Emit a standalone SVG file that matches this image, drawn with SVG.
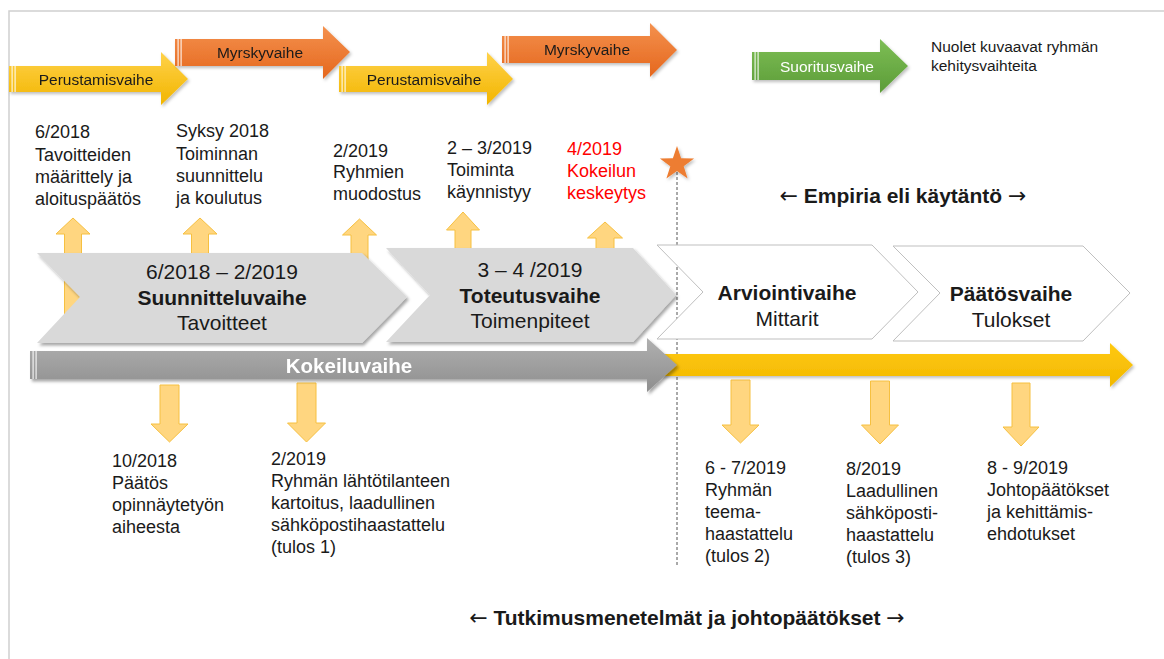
<svg xmlns="http://www.w3.org/2000/svg" width="1164" height="659" viewBox="0 0 1164 659">
  <defs>
    <linearGradient id="gYellow" x1="0" y1="0" x2="0" y2="1">
      <stop offset="0" stop-color="#FFD24A"/>
      <stop offset="1" stop-color="#F2B500"/>
    </linearGradient>
    <linearGradient id="gOrange" x1="0" y1="0" x2="0" y2="1">
      <stop offset="0" stop-color="#F4914E"/>
      <stop offset="1" stop-color="#E5671D"/>
    </linearGradient>
    <linearGradient id="gGreen" x1="0" y1="0" x2="0" y2="1">
      <stop offset="0" stop-color="#7DBE55"/>
      <stop offset="1" stop-color="#5C9C38"/>
    </linearGradient>
    <linearGradient id="gGray" x1="0" y1="0" x2="0" y2="1">
      <stop offset="0" stop-color="#B0B0B0"/>
      <stop offset="1" stop-color="#8E8E8E"/>
    </linearGradient>
    <linearGradient id="gGold" x1="0" y1="0" x2="0" y2="1">
      <stop offset="0" stop-color="#FFC910"/>
      <stop offset="1" stop-color="#F2B800"/>
    </linearGradient>
    <filter id="shadow" x="-10%" y="-20%" width="130%" height="160%">
      <feDropShadow dx="2" dy="2.5" stdDeviation="1.8" flood-color="#000" flood-opacity="0.35"/>
    </filter>
    <filter id="softShadow" x="-10%" y="-20%" width="130%" height="160%">
      <feDropShadow dx="1.5" dy="2" stdDeviation="1.5" flood-color="#000" flood-opacity="0.25"/>
    </filter>
  </defs>
  <style>
    text { font-family: "Liberation Sans", Arial, sans-serif; fill: #1a1a1a; }
    .lbl { font-size: 15.5px; text-anchor: middle; }
    .lblw { font-size: 15.5px; text-anchor: middle; fill: #ffffff; }
    .note { font-size: 15.5px; }
    .ev { font-size: 18px; }
    .red { fill: #FF0000; }
    .ph { font-size: 21px; text-anchor: middle; }
    .phb { font-size: 21px; text-anchor: middle; font-weight: bold; }
    .axis { font-size: 21px; font-weight: bold; text-anchor: middle; }
    .arr { font-family: "DejaVu Sans", sans-serif; font-weight: normal; font-size: 22px; }
    .kok { font-size: 20.5px; font-weight: bold; fill: #ffffff; text-anchor: middle; }
    .chevG { fill: #D9D9D9; filter: url(#shadow); }
    .chevW { fill: #ffffff; stroke: #BFBFBF; stroke-width: 1; }
    .callout { fill: #FFD680; stroke: #F6C040; stroke-width: 1; }
    .stripe { fill: #ffffff; opacity: 0.85; }
  </style>

  <!-- page frame -->
  <path d="M9,659 V11 H1164" fill="none" stroke="#D0D0D0" stroke-width="1.5"/>

  <!-- group development stages (top block arrows) -->
  <g id="stage-perustamis-1" filter="url(#softShadow)">
    <path d="M9,66 H161 V52 L188,79 L161,105 V92 H9 Z" fill="url(#gYellow)"/>
    <rect x="11.5" y="66" width="1.2" height="26" class="stripe"/>
    <rect x="14.5" y="66" width="1.2" height="26" class="stripe"/>
    <text x="96" y="85" class="lbl">Perustamisvaihe</text>
  </g>
  <g id="stage-myrsky-1" filter="url(#softShadow)">
    <path d="M175,39 H323 V26 L350,52 L323,79 V66 H175 Z" fill="url(#gOrange)"/>
    <rect x="177.5" y="39" width="1.2" height="27" class="stripe"/>
    <rect x="180.5" y="39" width="1.2" height="27" class="stripe"/>
    <text x="260" y="58" class="lbl">Myrskyvaihe</text>
  </g>
  <g id="stage-perustamis-2" filter="url(#softShadow)">
    <path d="M339,66 H487 V52 L513,79 L487,105 V92 H339 Z" fill="url(#gYellow)"/>
    <rect x="341.5" y="66" width="1.2" height="26" class="stripe"/>
    <rect x="344.5" y="66" width="1.2" height="26" class="stripe"/>
    <text x="424" y="85" class="lbl">Perustamisvaihe</text>
  </g>
  <g id="stage-myrsky-2" filter="url(#softShadow)">
    <path d="M502,36 H650 V23 L677,50 L650,77 V63 H502 Z" fill="url(#gOrange)"/>
    <rect x="504.5" y="36" width="1.2" height="27" class="stripe"/>
    <rect x="507.5" y="36" width="1.2" height="27" class="stripe"/>
    <text x="587" y="55" class="lbl">Myrskyvaihe</text>
  </g>
  <g id="stage-suoritus" filter="url(#softShadow)">
    <path d="M752,52 H880 V39 L908,66 L880,93 V80 H752 Z" fill="url(#gGreen)"/>
    <rect x="754.5" y="52" width="1.2" height="28" class="stripe"/>
    <rect x="757.5" y="52" width="1.2" height="28" class="stripe"/>
    <text x="827" y="72" class="lblw">Suoritusvaihe</text>
  </g>
  <g id="legend">
    <text x="931" y="52" class="note">Nuolet kuvaavat ryhmän</text>
    <text x="931" y="71" class="note">kehitysvaihteita</text>
  </g>

  <!-- callout arrows pointing to the milestones -->
  <g id="connectors">
    <path class="callout" d="M64.5,320 V234 H56 L73,218 L90,234 H81.5 V320 Z"/>
    <path class="callout" d="M191.5,320 V234 H183 L200,218 L217,234 H208.5 V320 Z"/>
    <path class="callout" d="M351,320 V235 H342.5 L359.5,219 L376.5,235 H368 V320 Z"/>
    <path class="callout" d="M455,320 V230 H446.5 L463,212 L479.5,230 H471 V320 Z"/>
    <path class="callout" d="M596,320 V238 H587.5 L605,222 L622.5,238 H614 V320 Z"/>

    <path class="callout" d="M160,385 V424 H151 L169.5,442 L188,424 H179 V385 Z"/>
    <path class="callout" d="M297,383 V423 H287.5 L306.5,442 L325.5,423 H316 V383 Z"/>
    <path class="callout" d="M731,380 V425 H722 L740.5,443 L759,425 H750 V380 Z"/>
    <path class="callout" d="M870.5,381 V425 H861.5 L880,444 L898.5,425 H889.5 V381 Z"/>
    <path class="callout" d="M1012,383 V427 H1003 L1021,446 L1039,427 H1030 V383 Z"/>

    <!-- interruption marker line -->
    <line x1="677" y1="172" x2="677" y2="567" stroke="#555555" stroke-width="1" stroke-dasharray="3,2"/>
  </g>

  <!-- process phases -->
  <g id="phase-suunnittelu">
    <path class="chevG" d="M37,253 H362 L407,297 L362,343 H37 L80,297 Z"/>
    <text x="222" y="279" class="ph">6/2018 – 2/2019</text>
    <text x="222" y="305" class="phb">Suunnitteluvaihe</text>
    <text x="222" y="330" class="ph">Tavoitteet</text>
  </g>
  <g id="phase-toteutus">
    <path class="chevG" d="M386,248 H633 L676,295 L633,342 H386 L430,295 Z"/>
    <text x="530" y="277" class="ph">3 – 4 /2019</text>
    <text x="530" y="303" class="phb">Toteutusvaihe</text>
    <text x="530" y="328" class="ph">Toimenpiteet</text>
  </g>
  <g id="phase-arviointi">
    <path class="chevW" d="M657,245 H872 L918,292 L872,339 H657 L703,292 Z"/>
    <text x="787" y="300" class="phb">Arviointivaihe</text>
    <text x="787" y="326" class="ph">Mittarit</text>
  </g>
  <g id="phase-paatos">
    <path class="chevW" d="M893,246 H1083 L1130,293 L1083,341 H893 L940,293 Z"/>
    <text x="1011" y="301" class="phb">Päätösvaihe</text>
    <text x="1011" y="327" class="ph">Tulokset</text>
  </g>

  <!-- timeline arrows -->
  <g id="timeline-empiria" filter="url(#softShadow)">
    <path d="M660,354 H1110 V343 L1133,365 L1110,387 V376 H660 Z" fill="url(#gGold)"/>
  </g>
  <g id="timeline-kokeilu" filter="url(#shadow)">
    <path d="M30,351 H647 V338 L677,365 L647,392 V379 H30 Z" fill="url(#gGray)"/>
    <rect x="32.5" y="351" width="1.2" height="28" class="stripe" opacity="0.6"/>
    <rect x="35.5" y="351" width="1.2" height="28" class="stripe" opacity="0.6"/>
    <text x="349" y="373" class="kok">Kokeiluvaihe</text>
  </g>

  <!-- interruption star -->
  <g id="star" filter="url(#softShadow)">
    <polygon points="677,146 681.1,158.3 694.1,158.4 683.7,166.2 687.6,178.6 677,171 666.4,178.6 670.3,166.2 659.9,158.4 672.9,158.3" fill="#ED7D31"/>
  </g>

  <!-- milestones above the timeline -->
  <g id="milestone-2018-06">
    <text x="35" y="138" class="ev">6/2018</text>
    <text x="35" y="161" class="ev">Tavoitteiden</text>
    <text x="35" y="183" class="ev">määrittely ja</text>
    <text x="35" y="205" class="ev">aloituspäätös</text>
  </g>
  <g id="milestone-2018-syksy">
    <text x="176" y="137" class="ev">Syksy 2018</text>
    <text x="176" y="160" class="ev">Toiminnan</text>
    <text x="176" y="182" class="ev">suunnittelu</text>
    <text x="176" y="204" class="ev">ja koulutus</text>
  </g>
  <g id="milestone-2019-02a">
    <text x="333" y="157" class="ev">2/2019</text>
    <text x="333" y="178" class="ev">Ryhmien</text>
    <text x="333" y="200" class="ev">muodostus</text>
  </g>
  <g id="milestone-2019-02-03">
    <text x="447" y="154" class="ev">2 – 3/2019</text>
    <text x="447" y="176" class="ev">Toiminta</text>
    <text x="447" y="198" class="ev">käynnistyy</text>
  </g>
  <g id="milestone-2019-04">
    <text x="567" y="155" class="ev red">4/2019</text>
    <text x="567" y="177" class="ev red">Kokeilun</text>
    <text x="567" y="199" class="ev red">keskeytys</text>
  </g>
  <g id="label-empiria">
    <text x="903" y="203" class="axis"><tspan class="arr">←</tspan> Empiria eli käytäntö <tspan class="arr">→</tspan></text>
  </g>

  <!-- milestones below the timeline -->
  <g id="milestone-2018-10">
    <text x="112" y="467" class="ev">10/2018</text>
    <text x="112" y="489" class="ev">Päätös</text>
    <text x="112" y="511" class="ev">opinnäytetyön</text>
    <text x="112" y="533" class="ev">aiheesta</text>
  </g>
  <g id="milestone-2019-02b">
    <text x="271" y="465" class="ev">2/2019</text>
    <text x="271" y="487" class="ev">Ryhmän lähtötilanteen</text>
    <text x="271" y="509" class="ev">kartoitus, laadullinen</text>
    <text x="271" y="531" class="ev">sähköpostihaastattelu</text>
    <text x="271" y="553" class="ev">(tulos 1)</text>
  </g>
  <g id="milestone-2019-06-07">
    <text x="705" y="474" class="ev">6 - 7/2019</text>
    <text x="705" y="496" class="ev">Ryhmän</text>
    <text x="705" y="518" class="ev">teema-</text>
    <text x="705" y="540" class="ev">haastattelu</text>
    <text x="705" y="562" class="ev">(tulos 2)</text>
  </g>
  <g id="milestone-2019-08">
    <text x="846" y="475" class="ev">8/2019</text>
    <text x="846" y="497" class="ev">Laadullinen</text>
    <text x="846" y="519" class="ev">sähköposti-</text>
    <text x="846" y="541" class="ev">haastattelu</text>
    <text x="846" y="563" class="ev">(tulos 3)</text>
  </g>
  <g id="milestone-2019-08-09">
    <text x="987" y="474" class="ev">8 - 9/2019</text>
    <text x="987" y="496" class="ev">Johtopäätökset</text>
    <text x="987" y="518" class="ev">ja kehittämis-</text>
    <text x="987" y="540" class="ev">ehdotukset</text>
  </g>
  <g id="label-tutkimus">
    <text x="687" y="625" class="axis"><tspan class="arr">←</tspan> Tutkimusmenetelmät ja johtopäätökset <tspan class="arr">→</tspan></text>
  </g>
</svg>
